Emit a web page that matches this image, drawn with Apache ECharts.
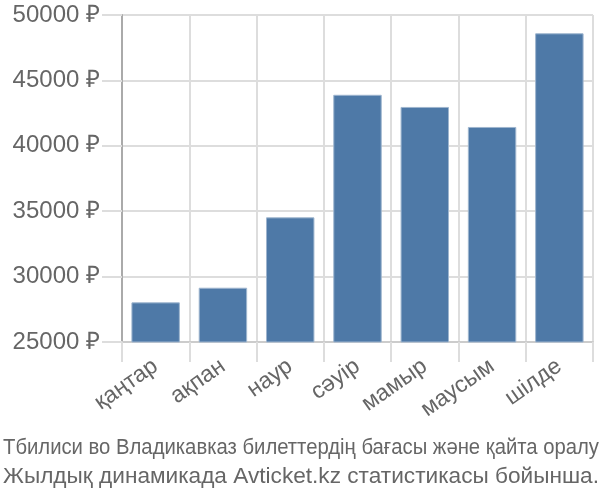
<!DOCTYPE html>
<html>
<head>
<meta charset="utf-8">
<script src="https://cdn.jsdelivr.net/npm/echarts@6/dist/echarts.min.js"></script>
<style>
html,body{margin:0;padding:0;background:#fff;}
#c{width:600px;height:500px;}
</style>
</head>
<body>
<div id="c"></div>
<script>
var categories = ['қаңтар', 'ақпан', 'наур', 'сәуір', 'мамыр', 'маусым', 'шілде'];
var prices = [28030, 29150, 34530, 43900, 42970, 41440, 48600];
var yTicks = [25000, 30000, 35000, 40000, 45000, 50000];
var titleLines = ['Тбилиси во Владикавказ билеттердің бағасы және қайта оралу', 'Жылдық динамикада Avticket.kz статистикасы бойынша.'];

var FONT = 'Liberation Sans, Arial, sans-serif';
var titleSize = 22;
var titleWidth = 596;
var mctx = document.createElement('canvas').getContext('2d');
mctx.font = titleSize + 'px ' + FONT;
function fitScale(s) { return titleWidth / mctx.measureText(s).width; }

var chart = echarts.init(document.getElementById('c'));
chart.setOption({
  animation: false,
  graphic: titleLines.map(function (line, i) {
    return {
      type: 'text',
      x: 3,
      y: 448 + i * 29,
      scaleX: fitScale(line),
      style: {
        text: line,
        font: titleSize + 'px ' + FONT,
        fill: '#666',
        verticalAlign: 'middle',
        align: 'left'
      }
    };
  }),
  grid: { left: 122, right: 7, top: 15, bottom: 158, containLabel: false },
  xAxis: {
    type: 'category',
    data: categories,
    axisLine: { show: true, lineStyle: { color: '#ccc', width: 2 } },
    axisTick: { show: true, length: 20, alignWithLabel: false, lineStyle: { color: '#ddd', width: 2 } },
    splitLine: { show: true, lineStyle: { color: '#ddd', width: 2 } },
    axisLabel: {
      rotate: 35,
      margin: 22,
      fontFamily: FONT,
      fontSize: 23,
      color: '#666'
    }
  },
  yAxis: {
    type: 'value',
    min: yTicks[0],
    max: yTicks[yTicks.length - 1],
    interval: 5000,
    axisLine: { show: true, lineStyle: { color: '#aaa', width: 2 } },
    axisTick: { show: true, length: 20, lineStyle: { color: '#ddd', width: 2 } },
    splitLine: { show: true, lineStyle: { color: '#ddd', width: 2 } },
    axisLabel: {
      margin: 22,
      fontFamily: FONT,
      fontSize: 24,
      color: '#666',
      formatter: function (v) { return v + ' ₽'; }
    }
  },
  series: [{
    type: 'bar',
    data: prices,
    barCategoryGap: '28%',
    itemStyle: { color: '#4e79a7', borderColor: '#9fb6cf', borderWidth: 1 }
  }]
});
</script>
</body>
</html>
